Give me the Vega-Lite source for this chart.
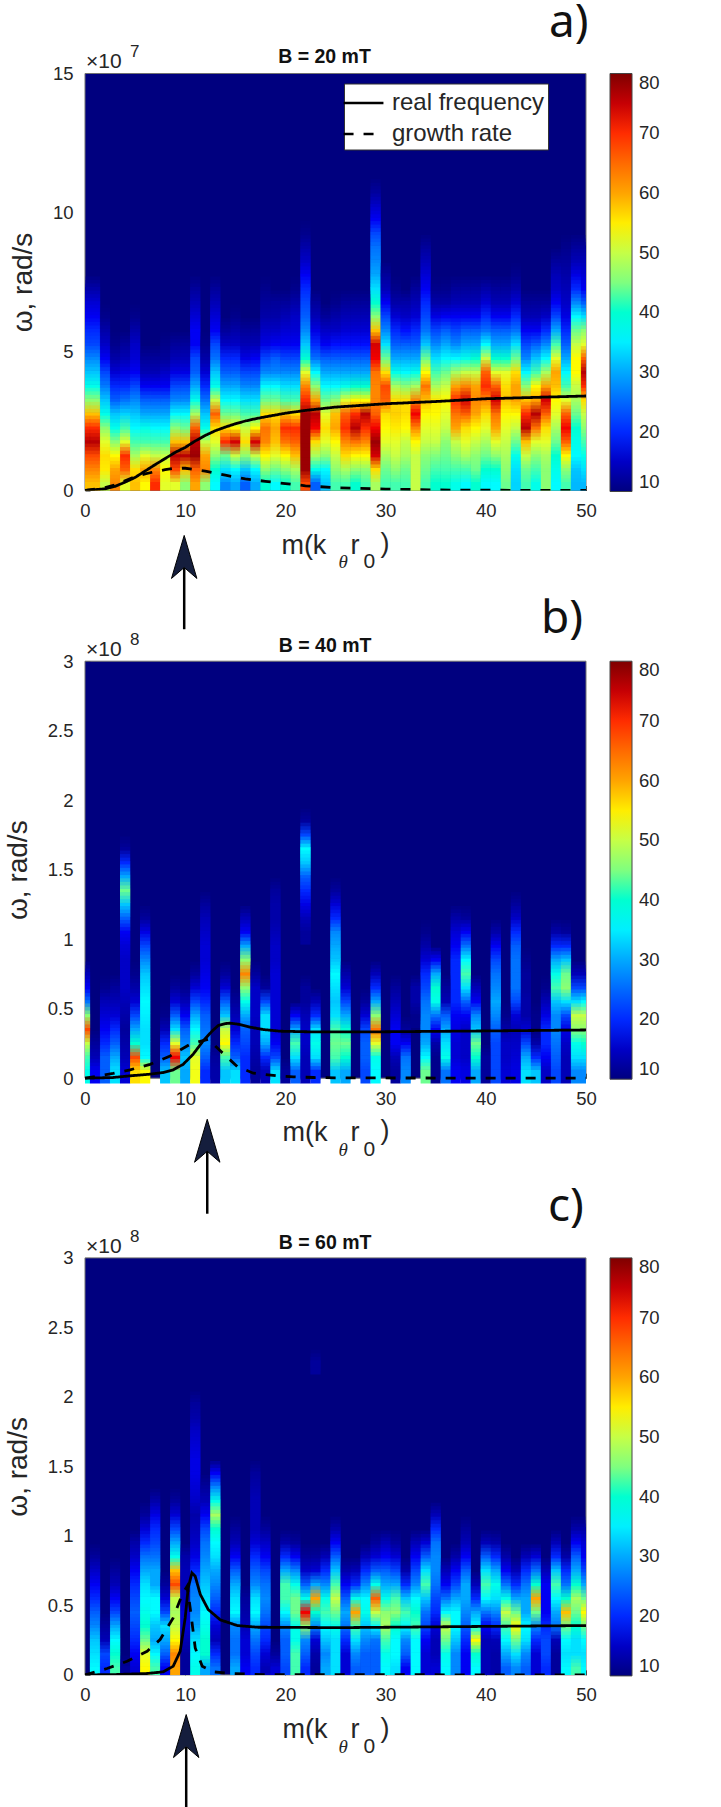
{"$schema":"https://vega.github.io/schema/vega-lite/v6.json","padding":{"left":4,"top":-0.5,"right":0,"bottom":0},"background":"white","bounds":"flush","spacing":170.7,
"resolve":{"scale":{"color":"independent"},"legend":{"color":"independent"}},
"config":{"view":{"stroke":null},"axis":{"labelFont":"Liberation Sans","labelFontSize":18.5,"labelColor":"#262626","labelFlush":false,"domain":false,"grid":false,"tickColor":"#262626","tickSize":-5,"zindex":1,"titleFont":"Liberation Sans","titleFontWeight":"normal","titleColor":"#262626"}},
"datasets":{
"heatA":[
{"m":0,"y":0.25,"v":58},{"m":0,"y":0.75,"v":62},{"m":0,"y":1.25,"v":68},{"m":0,"y":1.75,"v":76},{"m":0,"y":2.25,"v":70},{"m":0,"y":2.75,"v":58},{"m":0,"y":3.25,"v":46},{"m":0,"y":3.75,"v":38},{"m":0,"y":4.25,"v":32},{"m":0,"y":4.75,"v":28},{"m":0,"y":5.25,"v":22},{"m":0,"y":5.75,"v":20},{"m":0,"y":6.25,"v":18},{"m":0,"y":6.75,"v":16},{"m":0,"y":7.25,"v":13},
{"m":1,"y":0.25,"v":58},{"m":1,"y":0.75,"v":62},{"m":1,"y":1.25,"v":68},{"m":1,"y":1.75,"v":76},{"m":1,"y":2.25,"v":70},{"m":1,"y":2.75,"v":58},{"m":1,"y":3.25,"v":46},{"m":1,"y":3.75,"v":38},{"m":1,"y":4.25,"v":32},{"m":1,"y":4.75,"v":28},{"m":1,"y":5.25,"v":22},{"m":1,"y":5.75,"v":20},{"m":1,"y":6.25,"v":18},{"m":1,"y":6.75,"v":16},{"m":1,"y":7.25,"v":13},
{"m":2,"y":0.25,"v":50},{"m":2,"y":0.75,"v":55},{"m":2,"y":1.25,"v":56},{"m":2,"y":1.75,"v":52},{"m":2,"y":2.25,"v":46},{"m":2,"y":2.75,"v":38},{"m":2,"y":3.25,"v":32},{"m":2,"y":3.75,"v":27},{"m":2,"y":4.25,"v":22},{"m":2,"y":4.75,"v":18},{"m":2,"y":5.25,"v":15},{"m":2,"y":5.75,"v":13},{"m":2,"y":6.25,"v":11},
{"m":3,"y":0.25,"v":62},{"m":3,"y":0.75,"v":60},{"m":3,"y":1.25,"v":54},{"m":3,"y":1.75,"v":46},{"m":3,"y":2.25,"v":38},{"m":3,"y":2.75,"v":32},{"m":3,"y":3.25,"v":24},{"m":3,"y":3.75,"v":20},{"m":3,"y":4.25,"v":16},{"m":3,"y":4.75,"v":13},{"m":3,"y":5.25,"v":11},
{"m":4,"y":0.25,"v":52},{"m":4,"y":0.75,"v":66},{"m":4,"y":1.25,"v":70},{"m":4,"y":1.75,"v":52},{"m":4,"y":2.25,"v":42},{"m":4,"y":2.75,"v":33},{"m":4,"y":3.25,"v":26},{"m":4,"y":3.75,"v":20},{"m":4,"y":4.25,"v":17},{"m":4,"y":4.75,"v":14},{"m":4,"y":5.25,"v":12},
{"m":5,"y":0.25,"v":58},{"m":5,"y":0.75,"v":56},{"m":5,"y":1.25,"v":48},{"m":5,"y":1.75,"v":42},{"m":5,"y":2.25,"v":36},{"m":5,"y":2.75,"v":32},{"m":5,"y":3.25,"v":28},{"m":5,"y":3.75,"v":22},{"m":5,"y":4.25,"v":18},{"m":5,"y":4.75,"v":16},{"m":5,"y":5.25,"v":15},{"m":5,"y":5.75,"v":13},{"m":5,"y":6.25,"v":11},
{"m":6,"y":0.25,"v":54},{"m":6,"y":0.75,"v":60},{"m":6,"y":1.25,"v":52},{"m":6,"y":1.75,"v":42},{"m":6,"y":2.25,"v":38},{"m":6,"y":2.75,"v":30},{"m":6,"y":3.25,"v":24},{"m":6,"y":3.75,"v":18},{"m":6,"y":4.25,"v":14},{"m":6,"y":4.75,"v":12},
{"m":7,"y":0.25,"v":70},{"m":7,"y":0.75,"v":62},{"m":7,"y":1.25,"v":50},{"m":7,"y":1.75,"v":42},{"m":7,"y":2.25,"v":36},{"m":7,"y":2.75,"v":30},{"m":7,"y":3.25,"v":24},{"m":7,"y":3.75,"v":18},{"m":7,"y":4.25,"v":14},{"m":7,"y":4.75,"v":12},
{"m":8,"y":0.25,"v":52},{"m":8,"y":0.75,"v":54},{"m":8,"y":1.25,"v":50},{"m":8,"y":1.75,"v":42},{"m":8,"y":2.25,"v":36},{"m":8,"y":2.75,"v":30},{"m":8,"y":3.25,"v":24},{"m":8,"y":3.75,"v":18},{"m":8,"y":4.25,"v":15},{"m":8,"y":4.75,"v":12},{"m":8,"y":5.25,"v":11},
{"m":9,"y":0.25,"v":52},{"m":9,"y":0.75,"v":68},{"m":9,"y":1.25,"v":76},{"m":9,"y":1.75,"v":58},{"m":9,"y":2.25,"v":46},{"m":9,"y":2.75,"v":36},{"m":9,"y":3.25,"v":28},{"m":9,"y":3.75,"v":22},{"m":9,"y":4.25,"v":17},{"m":9,"y":4.75,"v":14},{"m":9,"y":5.25,"v":12},
{"m":10,"y":0.25,"v":46},{"m":10,"y":0.75,"v":58},{"m":10,"y":1.25,"v":76},{"m":10,"y":1.75,"v":58},{"m":10,"y":2.25,"v":44},{"m":10,"y":2.75,"v":36},{"m":10,"y":3.25,"v":28},{"m":10,"y":3.75,"v":22},{"m":10,"y":4.25,"v":17},{"m":10,"y":4.75,"v":14},{"m":10,"y":5.25,"v":12},
{"m":11,"y":0.25,"v":60},{"m":11,"y":0.75,"v":66},{"m":11,"y":1.25,"v":78},{"m":11,"y":1.75,"v":76},{"m":11,"y":2.25,"v":66},{"m":11,"y":2.75,"v":48},{"m":11,"y":3.25,"v":38},{"m":11,"y":3.75,"v":30},{"m":11,"y":4.25,"v":24},{"m":11,"y":4.75,"v":22},{"m":11,"y":5.25,"v":18},{"m":11,"y":5.75,"v":18},{"m":11,"y":6.25,"v":16},{"m":11,"y":6.75,"v":14},{"m":11,"y":7.25,"v":12},
{"m":12,"y":0.25,"v":46},{"m":12,"y":0.75,"v":62},{"m":12,"y":1.25,"v":60},{"m":12,"y":1.75,"v":50},{"m":12,"y":2.25,"v":38},{"m":12,"y":2.75,"v":32},{"m":12,"y":3.25,"v":26},{"m":12,"y":3.75,"v":20},{"m":12,"y":4.25,"v":16},{"m":12,"y":4.75,"v":13},{"m":12,"y":5.25,"v":11},
{"m":13,"y":0.25,"v":36},{"m":13,"y":0.75,"v":40},{"m":13,"y":1.25,"v":46},{"m":13,"y":1.75,"v":52},{"m":13,"y":2.25,"v":56},{"m":13,"y":2.75,"v":66},{"m":13,"y":3.25,"v":50},{"m":13,"y":3.75,"v":38},{"m":13,"y":4.25,"v":32},{"m":13,"y":4.75,"v":26},{"m":13,"y":5.25,"v":22},{"m":13,"y":5.75,"v":18},{"m":13,"y":6.25,"v":16},{"m":13,"y":6.75,"v":14},{"m":13,"y":7.25,"v":12},
{"m":14,"y":0.25,"v":28},{"m":14,"y":0.75,"v":34},{"m":14,"y":1.25,"v":44},{"m":14,"y":1.75,"v":70},{"m":14,"y":2.25,"v":56},{"m":14,"y":2.75,"v":44},{"m":14,"y":3.25,"v":36},{"m":14,"y":3.75,"v":30},{"m":14,"y":4.25,"v":24},{"m":14,"y":4.75,"v":20},{"m":14,"y":5.25,"v":15},{"m":14,"y":5.75,"v":12},
{"m":15,"y":0.25,"v":30},{"m":15,"y":0.75,"v":36},{"m":15,"y":1.25,"v":50},{"m":15,"y":1.75,"v":74},{"m":15,"y":2.25,"v":54},{"m":15,"y":2.75,"v":44},{"m":15,"y":3.25,"v":36},{"m":15,"y":3.75,"v":30},{"m":15,"y":4.25,"v":24},{"m":15,"y":4.75,"v":20},{"m":15,"y":5.25,"v":15},{"m":15,"y":5.75,"v":13},{"m":15,"y":6.25,"v":11},
{"m":16,"y":0.25,"v":24},{"m":16,"y":0.75,"v":32},{"m":16,"y":1.25,"v":46},{"m":16,"y":1.75,"v":56},{"m":16,"y":2.25,"v":50},{"m":16,"y":2.75,"v":42},{"m":16,"y":3.25,"v":34},{"m":16,"y":3.75,"v":28},{"m":16,"y":4.25,"v":22},{"m":16,"y":4.75,"v":17},{"m":16,"y":5.25,"v":14},{"m":16,"y":5.75,"v":12},
{"m":17,"y":0.25,"v":30},{"m":17,"y":0.75,"v":36},{"m":17,"y":1.25,"v":50},{"m":17,"y":1.75,"v":74},{"m":17,"y":2.25,"v":54},{"m":17,"y":2.75,"v":42},{"m":17,"y":3.25,"v":34},{"m":17,"y":3.75,"v":28},{"m":17,"y":4.25,"v":22},{"m":17,"y":4.75,"v":18},{"m":17,"y":5.25,"v":14},{"m":17,"y":5.75,"v":12},
{"m":18,"y":0.25,"v":40},{"m":18,"y":0.75,"v":46},{"m":18,"y":1.25,"v":54},{"m":18,"y":1.75,"v":62},{"m":18,"y":2.25,"v":64},{"m":18,"y":2.75,"v":56},{"m":18,"y":3.25,"v":44},{"m":18,"y":3.75,"v":36},{"m":18,"y":4.25,"v":28},{"m":18,"y":4.75,"v":22},{"m":18,"y":5.25,"v":17},{"m":18,"y":5.75,"v":15},{"m":18,"y":6.25,"v":13},{"m":18,"y":6.75,"v":12},{"m":18,"y":7.25,"v":11},
{"m":19,"y":0.25,"v":36},{"m":19,"y":0.75,"v":44},{"m":19,"y":1.25,"v":52},{"m":19,"y":1.75,"v":58},{"m":19,"y":2.25,"v":60},{"m":19,"y":2.75,"v":56},{"m":19,"y":3.25,"v":44},{"m":19,"y":3.75,"v":36},{"m":19,"y":4.25,"v":28},{"m":19,"y":4.75,"v":24},{"m":19,"y":5.25,"v":18},{"m":19,"y":5.75,"v":15},{"m":19,"y":6.25,"v":13},{"m":19,"y":6.75,"v":12},
{"m":20,"y":0.25,"v":40},{"m":20,"y":0.75,"v":46},{"m":20,"y":1.25,"v":54},{"m":20,"y":1.75,"v":64},{"m":20,"y":2.25,"v":70},{"m":20,"y":2.75,"v":58},{"m":20,"y":3.25,"v":42},{"m":20,"y":3.75,"v":34},{"m":20,"y":4.25,"v":28},{"m":20,"y":4.75,"v":22},{"m":20,"y":5.25,"v":18},{"m":20,"y":5.75,"v":16},{"m":20,"y":6.25,"v":14},{"m":20,"y":6.75,"v":12},
{"m":21,"y":0.25,"v":42},{"m":21,"y":0.75,"v":48},{"m":21,"y":1.25,"v":58},{"m":21,"y":1.75,"v":66},{"m":21,"y":2.25,"v":70},{"m":21,"y":2.75,"v":56},{"m":21,"y":3.25,"v":42},{"m":21,"y":3.75,"v":34},{"m":21,"y":4.25,"v":28},{"m":21,"y":4.75,"v":22},{"m":21,"y":5.25,"v":18},{"m":21,"y":5.75,"v":16},{"m":21,"y":6.25,"v":15},{"m":21,"y":6.75,"v":13},{"m":21,"y":7.25,"v":11},
{"m":22,"y":0.25,"v":68},{"m":22,"y":0.75,"v":78},{"m":22,"y":1.25,"v":78},{"m":22,"y":1.75,"v":78},{"m":22,"y":2.25,"v":78},{"m":22,"y":2.75,"v":78},{"m":22,"y":3.25,"v":70},{"m":22,"y":3.75,"v":62},{"m":22,"y":4.25,"v":52},{"m":22,"y":4.75,"v":40},{"m":22,"y":5.25,"v":32},{"m":22,"y":5.75,"v":28},{"m":22,"y":6.25,"v":24},{"m":22,"y":6.75,"v":22},{"m":22,"y":7.25,"v":20},{"m":22,"y":7.75,"v":18},{"m":22,"y":8.25,"v":15},{"m":22,"y":8.75,"v":13},{"m":22,"y":9.25,"v":11},
{"m":23,"y":0.25,"v":24},{"m":23,"y":0.75,"v":38},{"m":23,"y":1.25,"v":48},{"m":23,"y":1.75,"v":56},{"m":23,"y":2.25,"v":72},{"m":23,"y":2.75,"v":76},{"m":23,"y":3.25,"v":60},{"m":23,"y":3.75,"v":46},{"m":23,"y":4.25,"v":36},{"m":23,"y":4.75,"v":26},{"m":23,"y":5.25,"v":20},{"m":23,"y":5.75,"v":17},{"m":23,"y":6.25,"v":14},{"m":23,"y":6.75,"v":12},
{"m":24,"y":0.25,"v":32},{"m":24,"y":0.75,"v":36},{"m":24,"y":1.25,"v":46},{"m":24,"y":1.75,"v":52},{"m":24,"y":2.25,"v":56},{"m":24,"y":2.75,"v":52},{"m":24,"y":3.25,"v":44},{"m":24,"y":3.75,"v":36},{"m":24,"y":4.25,"v":30},{"m":24,"y":4.75,"v":24},{"m":24,"y":5.25,"v":18},{"m":24,"y":5.75,"v":15},{"m":24,"y":6.25,"v":12},
{"m":25,"y":0.25,"v":42},{"m":25,"y":0.75,"v":46},{"m":25,"y":1.25,"v":50},{"m":25,"y":1.75,"v":54},{"m":25,"y":2.25,"v":60},{"m":25,"y":2.75,"v":58},{"m":25,"y":3.25,"v":46},{"m":25,"y":3.75,"v":36},{"m":25,"y":4.25,"v":30},{"m":25,"y":4.75,"v":24},{"m":25,"y":5.25,"v":19},{"m":25,"y":5.75,"v":15},{"m":25,"y":6.25,"v":13},{"m":25,"y":6.75,"v":11},
{"m":26,"y":0.25,"v":42},{"m":26,"y":0.75,"v":48},{"m":26,"y":1.25,"v":56},{"m":26,"y":1.75,"v":62},{"m":26,"y":2.25,"v":70},{"m":26,"y":2.75,"v":66},{"m":26,"y":3.25,"v":52},{"m":26,"y":3.75,"v":38},{"m":26,"y":4.25,"v":30},{"m":26,"y":4.75,"v":24},{"m":26,"y":5.25,"v":19},{"m":26,"y":5.75,"v":16},{"m":26,"y":6.25,"v":14},{"m":26,"y":6.75,"v":12},
{"m":27,"y":0.25,"v":40},{"m":27,"y":0.75,"v":46},{"m":27,"y":1.25,"v":54},{"m":27,"y":1.75,"v":64},{"m":27,"y":2.25,"v":76},{"m":27,"y":2.75,"v":70},{"m":27,"y":3.25,"v":54},{"m":27,"y":3.75,"v":40},{"m":27,"y":4.25,"v":30},{"m":27,"y":4.75,"v":24},{"m":27,"y":5.25,"v":19},{"m":27,"y":5.75,"v":16},{"m":27,"y":6.25,"v":14},{"m":27,"y":6.75,"v":12},
{"m":28,"y":0.25,"v":42},{"m":28,"y":0.75,"v":46},{"m":28,"y":1.25,"v":54},{"m":28,"y":1.75,"v":62},{"m":28,"y":2.25,"v":70},{"m":28,"y":2.75,"v":76},{"m":28,"y":3.25,"v":54},{"m":28,"y":3.75,"v":40},{"m":28,"y":4.25,"v":30},{"m":28,"y":4.75,"v":24},{"m":28,"y":5.25,"v":19},{"m":28,"y":5.75,"v":16},{"m":28,"y":6.25,"v":14},{"m":28,"y":6.75,"v":12},
{"m":29,"y":0.25,"v":48},{"m":29,"y":0.75,"v":56},{"m":29,"y":1.25,"v":74},{"m":29,"y":1.75,"v":78},{"m":29,"y":2.25,"v":72},{"m":29,"y":2.75,"v":66},{"m":29,"y":3.25,"v":62},{"m":29,"y":3.75,"v":62},{"m":29,"y":4.25,"v":64},{"m":29,"y":4.75,"v":72},{"m":29,"y":5.25,"v":74},{"m":29,"y":5.75,"v":58},{"m":29,"y":6.25,"v":46},{"m":29,"y":6.75,"v":40},{"m":29,"y":7.25,"v":34},{"m":29,"y":7.75,"v":30},{"m":29,"y":8.25,"v":28},{"m":29,"y":8.75,"v":26},{"m":29,"y":9.25,"v":22},{"m":29,"y":9.75,"v":18},{"m":29,"y":10.25,"v":15},{"m":29,"y":10.75,"v":12},
{"m":30,"y":0.25,"v":42},{"m":30,"y":0.75,"v":44},{"m":30,"y":1.25,"v":48},{"m":30,"y":1.75,"v":52},{"m":30,"y":2.25,"v":54},{"m":30,"y":2.75,"v":56},{"m":30,"y":3.25,"v":66},{"m":30,"y":3.75,"v":68},{"m":30,"y":4.25,"v":56},{"m":30,"y":4.75,"v":44},{"m":30,"y":5.25,"v":34},{"m":30,"y":5.75,"v":28},{"m":30,"y":6.25,"v":22},{"m":30,"y":6.75,"v":18},{"m":30,"y":7.25,"v":14},{"m":30,"y":7.75,"v":12},
{"m":31,"y":0.25,"v":42},{"m":31,"y":0.75,"v":46},{"m":31,"y":1.25,"v":50},{"m":31,"y":1.75,"v":52},{"m":31,"y":2.25,"v":55},{"m":31,"y":2.75,"v":57},{"m":31,"y":3.25,"v":56},{"m":31,"y":3.75,"v":48},{"m":31,"y":4.25,"v":38},{"m":31,"y":4.75,"v":30},{"m":31,"y":5.25,"v":24},{"m":31,"y":5.75,"v":20},{"m":31,"y":6.25,"v":16},{"m":31,"y":6.75,"v":13},{"m":31,"y":7.25,"v":11},
{"m":32,"y":0.25,"v":42},{"m":32,"y":0.75,"v":44},{"m":32,"y":1.25,"v":48},{"m":32,"y":1.75,"v":50},{"m":32,"y":2.25,"v":54},{"m":32,"y":2.75,"v":56},{"m":32,"y":3.25,"v":56},{"m":32,"y":3.75,"v":46},{"m":32,"y":4.25,"v":36},{"m":32,"y":4.75,"v":30},{"m":32,"y":5.25,"v":24},{"m":32,"y":5.75,"v":19},{"m":32,"y":6.25,"v":15},{"m":32,"y":6.75,"v":13},
{"m":33,"y":0.25,"v":50},{"m":33,"y":0.75,"v":50},{"m":33,"y":1.25,"v":50},{"m":33,"y":1.75,"v":54},{"m":33,"y":2.25,"v":62},{"m":33,"y":2.75,"v":72},{"m":33,"y":3.25,"v":62},{"m":33,"y":3.75,"v":48},{"m":33,"y":4.25,"v":38},{"m":33,"y":4.75,"v":30},{"m":33,"y":5.25,"v":24},{"m":33,"y":5.75,"v":20},{"m":33,"y":6.25,"v":16},{"m":33,"y":6.75,"v":14},{"m":33,"y":7.25,"v":12},
{"m":34,"y":0.25,"v":42},{"m":34,"y":0.75,"v":44},{"m":34,"y":1.25,"v":46},{"m":34,"y":1.75,"v":50},{"m":34,"y":2.25,"v":52},{"m":34,"y":2.75,"v":54},{"m":34,"y":3.25,"v":58},{"m":34,"y":3.75,"v":64},{"m":34,"y":4.25,"v":54},{"m":34,"y":4.75,"v":44},{"m":34,"y":5.25,"v":32},{"m":34,"y":5.75,"v":26},{"m":34,"y":6.25,"v":22},{"m":34,"y":6.75,"v":20},{"m":34,"y":7.25,"v":18},{"m":34,"y":7.75,"v":16},{"m":34,"y":8.25,"v":14},{"m":34,"y":8.75,"v":12},
{"m":35,"y":0.25,"v":40},{"m":35,"y":0.75,"v":42},{"m":35,"y":1.25,"v":45},{"m":35,"y":1.75,"v":50},{"m":35,"y":2.25,"v":52},{"m":35,"y":2.75,"v":54},{"m":35,"y":3.25,"v":55},{"m":35,"y":3.75,"v":48},{"m":35,"y":4.25,"v":42},{"m":35,"y":4.75,"v":34},{"m":35,"y":5.25,"v":28},{"m":35,"y":5.75,"v":22},{"m":35,"y":6.25,"v":17},{"m":35,"y":6.75,"v":13},{"m":35,"y":7.25,"v":11},
{"m":36,"y":0.25,"v":40},{"m":36,"y":0.75,"v":42},{"m":36,"y":1.25,"v":44},{"m":36,"y":1.75,"v":46},{"m":36,"y":2.25,"v":50},{"m":36,"y":2.75,"v":52},{"m":36,"y":3.25,"v":54},{"m":36,"y":3.75,"v":50},{"m":36,"y":4.25,"v":44},{"m":36,"y":4.75,"v":36},{"m":36,"y":5.25,"v":30},{"m":36,"y":5.75,"v":24},{"m":36,"y":6.25,"v":18},{"m":36,"y":6.75,"v":13},{"m":36,"y":7.25,"v":11},
{"m":37,"y":0.25,"v":38},{"m":37,"y":0.75,"v":42},{"m":37,"y":1.25,"v":46},{"m":37,"y":1.75,"v":50},{"m":37,"y":2.25,"v":60},{"m":37,"y":2.75,"v":64},{"m":37,"y":3.25,"v":70},{"m":37,"y":3.75,"v":60},{"m":37,"y":4.25,"v":48},{"m":37,"y":4.75,"v":36},{"m":37,"y":5.25,"v":28},{"m":37,"y":5.75,"v":22},{"m":37,"y":6.25,"v":18},{"m":37,"y":6.75,"v":14},{"m":37,"y":7.25,"v":12},
{"m":38,"y":0.25,"v":36},{"m":38,"y":0.75,"v":42},{"m":38,"y":1.25,"v":48},{"m":38,"y":1.75,"v":52},{"m":38,"y":2.25,"v":56},{"m":38,"y":2.75,"v":66},{"m":38,"y":3.25,"v":74},{"m":38,"y":3.75,"v":62},{"m":38,"y":4.25,"v":50},{"m":38,"y":4.75,"v":38},{"m":38,"y":5.25,"v":30},{"m":38,"y":5.75,"v":24},{"m":38,"y":6.25,"v":18},{"m":38,"y":6.75,"v":14},{"m":38,"y":7.25,"v":12},
{"m":39,"y":0.25,"v":40},{"m":39,"y":0.75,"v":44},{"m":39,"y":1.25,"v":46},{"m":39,"y":1.75,"v":50},{"m":39,"y":2.25,"v":54},{"m":39,"y":2.75,"v":60},{"m":39,"y":3.25,"v":62},{"m":39,"y":3.75,"v":60},{"m":39,"y":4.25,"v":50},{"m":39,"y":4.75,"v":40},{"m":39,"y":5.25,"v":30},{"m":39,"y":5.75,"v":24},{"m":39,"y":6.25,"v":18},{"m":39,"y":6.75,"v":14},{"m":39,"y":7.25,"v":12},
{"m":40,"y":0.25,"v":36},{"m":40,"y":0.75,"v":40},{"m":40,"y":1.25,"v":44},{"m":40,"y":1.75,"v":48},{"m":40,"y":2.25,"v":52},{"m":40,"y":2.75,"v":56},{"m":40,"y":3.25,"v":62},{"m":40,"y":3.75,"v":70},{"m":40,"y":4.25,"v":66},{"m":40,"y":4.75,"v":50},{"m":40,"y":5.25,"v":36},{"m":40,"y":5.75,"v":26},{"m":40,"y":6.25,"v":20},{"m":40,"y":6.75,"v":16},{"m":40,"y":7.25,"v":13},
{"m":41,"y":0.25,"v":36},{"m":41,"y":0.75,"v":40},{"m":41,"y":1.25,"v":46},{"m":41,"y":1.75,"v":52},{"m":41,"y":2.25,"v":60},{"m":41,"y":2.75,"v":64},{"m":41,"y":3.25,"v":74},{"m":41,"y":3.75,"v":66},{"m":41,"y":4.25,"v":52},{"m":41,"y":4.75,"v":40},{"m":41,"y":5.25,"v":30},{"m":41,"y":5.75,"v":24},{"m":41,"y":6.25,"v":18},{"m":41,"y":6.75,"v":14},{"m":41,"y":7.25,"v":12},
{"m":42,"y":0.25,"v":44},{"m":42,"y":0.75,"v":46},{"m":42,"y":1.25,"v":48},{"m":42,"y":1.75,"v":50},{"m":42,"y":2.25,"v":52},{"m":42,"y":2.75,"v":54},{"m":42,"y":3.25,"v":58},{"m":42,"y":3.75,"v":56},{"m":42,"y":4.25,"v":52},{"m":42,"y":4.75,"v":40},{"m":42,"y":5.25,"v":30},{"m":42,"y":5.75,"v":24},{"m":42,"y":6.25,"v":18},{"m":42,"y":6.75,"v":14},{"m":42,"y":7.25,"v":12},
{"m":43,"y":0.25,"v":33},{"m":43,"y":0.75,"v":34},{"m":43,"y":1.25,"v":38},{"m":43,"y":1.75,"v":44},{"m":43,"y":2.25,"v":50},{"m":43,"y":2.75,"v":54},{"m":43,"y":3.25,"v":60},{"m":43,"y":3.75,"v":60},{"m":43,"y":4.25,"v":56},{"m":43,"y":4.75,"v":44},{"m":43,"y":5.25,"v":34},{"m":43,"y":5.75,"v":26},{"m":43,"y":6.25,"v":20},{"m":43,"y":6.75,"v":16},{"m":43,"y":7.25,"v":13},{"m":43,"y":7.75,"v":11},
{"m":44,"y":0.25,"v":42},{"m":44,"y":0.75,"v":44},{"m":44,"y":1.25,"v":50},{"m":44,"y":1.75,"v":58},{"m":44,"y":2.25,"v":76},{"m":44,"y":2.75,"v":70},{"m":44,"y":3.25,"v":58},{"m":44,"y":3.75,"v":46},{"m":44,"y":4.25,"v":36},{"m":44,"y":4.75,"v":28},{"m":44,"y":5.25,"v":22},{"m":44,"y":5.75,"v":18},{"m":44,"y":6.25,"v":14},{"m":44,"y":6.75,"v":12},
{"m":45,"y":0.25,"v":38},{"m":45,"y":0.75,"v":42},{"m":45,"y":1.25,"v":46},{"m":45,"y":1.75,"v":52},{"m":45,"y":2.25,"v":64},{"m":45,"y":2.75,"v":76},{"m":45,"y":3.25,"v":60},{"m":45,"y":3.75,"v":54},{"m":45,"y":4.25,"v":42},{"m":45,"y":4.75,"v":32},{"m":45,"y":5.25,"v":24},{"m":45,"y":5.75,"v":18},{"m":45,"y":6.25,"v":14},{"m":45,"y":6.75,"v":12},
{"m":46,"y":0.25,"v":46},{"m":46,"y":0.75,"v":46},{"m":46,"y":1.25,"v":48},{"m":46,"y":1.75,"v":52},{"m":46,"y":2.25,"v":56},{"m":46,"y":2.75,"v":66},{"m":46,"y":3.25,"v":74},{"m":46,"y":3.75,"v":60},{"m":46,"y":4.25,"v":48},{"m":46,"y":4.75,"v":36},{"m":46,"y":5.25,"v":28},{"m":46,"y":5.75,"v":20},{"m":46,"y":6.25,"v":15},{"m":46,"y":6.75,"v":12},
{"m":47,"y":0.25,"v":36},{"m":47,"y":0.75,"v":38},{"m":47,"y":1.25,"v":40},{"m":47,"y":1.75,"v":44},{"m":47,"y":2.25,"v":48},{"m":47,"y":2.75,"v":52},{"m":47,"y":3.25,"v":54},{"m":47,"y":3.75,"v":58},{"m":47,"y":4.25,"v":60},{"m":47,"y":4.75,"v":52},{"m":47,"y":5.25,"v":42},{"m":47,"y":5.75,"v":30},{"m":47,"y":6.25,"v":22},{"m":47,"y":6.75,"v":18},{"m":47,"y":7.25,"v":15},{"m":47,"y":7.75,"v":14},{"m":47,"y":8.25,"v":12},
{"m":48,"y":0.25,"v":42},{"m":48,"y":0.75,"v":46},{"m":48,"y":1.25,"v":54},{"m":48,"y":1.75,"v":66},{"m":48,"y":2.25,"v":72},{"m":48,"y":2.75,"v":66},{"m":48,"y":3.25,"v":52},{"m":48,"y":3.75,"v":42},{"m":48,"y":4.25,"v":36},{"m":48,"y":4.75,"v":30},{"m":48,"y":5.25,"v":24},{"m":48,"y":5.75,"v":20},{"m":48,"y":6.25,"v":17},{"m":48,"y":6.75,"v":15},{"m":48,"y":7.25,"v":14},{"m":48,"y":7.75,"v":13},{"m":48,"y":8.25,"v":12},{"m":48,"y":8.75,"v":11},
{"m":49,"y":0.25,"v":31},{"m":49,"y":0.75,"v":32},{"m":49,"y":1.25,"v":36},{"m":49,"y":1.75,"v":38},{"m":49,"y":2.25,"v":40},{"m":49,"y":2.75,"v":44},{"m":49,"y":3.25,"v":48},{"m":49,"y":3.75,"v":50},{"m":49,"y":4.25,"v":54},{"m":49,"y":4.75,"v":54},{"m":49,"y":5.25,"v":50},{"m":49,"y":5.75,"v":44},{"m":49,"y":6.25,"v":36},{"m":49,"y":6.75,"v":28},{"m":49,"y":7.25,"v":20},{"m":49,"y":7.75,"v":17},{"m":49,"y":8.25,"v":14},{"m":49,"y":8.75,"v":12},
{"m":50,"y":0.25,"v":31},{"m":50,"y":0.75,"v":34},{"m":50,"y":1.25,"v":38},{"m":50,"y":1.75,"v":42},{"m":50,"y":2.25,"v":46},{"m":50,"y":2.75,"v":50},{"m":50,"y":3.25,"v":56},{"m":50,"y":3.75,"v":70},{"m":50,"y":4.25,"v":76},{"m":50,"y":4.75,"v":66},{"m":50,"y":5.25,"v":52},{"m":50,"y":5.75,"v":46},{"m":50,"y":6.25,"v":34},{"m":50,"y":6.75,"v":24},{"m":50,"y":7.25,"v":18},{"m":50,"y":7.75,"v":16},{"m":50,"y":8.25,"v":14},{"m":50,"y":8.75,"v":12}
],
"heatB":[
{"m":0,"y":0.05,"v":38},{"m":0,"y":0.15,"v":42},{"m":0,"y":0.25,"v":50},{"m":0,"y":0.35,"v":68},{"m":0,"y":0.45,"v":46},{"m":0,"y":0.55,"v":26},{"m":0,"y":0.65,"v":18},{"m":0,"y":0.75,"v":14},
{"m":1,"y":0.05,"v":18},{"m":1,"y":0.15,"v":14},{"m":1,"y":0.25,"v":12},
{"m":2,"y":0.05,"v":24},{"m":2,"y":0.15,"v":24},{"m":2,"y":0.25,"v":20},{"m":2,"y":0.35,"v":18},{"m":2,"y":0.45,"v":16},{"m":2,"y":0.55,"v":14},{"m":2,"y":0.65,"v":11},
{"m":3,"y":0.05,"v":34},{"m":3,"y":0.15,"v":30},{"m":3,"y":0.25,"v":24},{"m":3,"y":0.35,"v":20},{"m":3,"y":0.45,"v":16},{"m":3,"y":0.55,"v":14},{"m":3,"y":0.65,"v":12},
{"m":4,"y":0.05,"v":16},{"m":4,"y":0.15,"v":14},{"m":4,"y":0.25,"v":13},{"m":4,"y":0.35,"v":12},{"m":4,"y":0.45,"v":13},{"m":4,"y":0.55,"v":14},{"m":4,"y":0.65,"v":15},{"m":4,"y":0.75,"v":15},{"m":4,"y":0.85,"v":15},{"m":4,"y":0.95,"v":16},{"m":4,"y":1.05,"v":18},{"m":4,"y":1.15,"v":24},{"m":4,"y":1.25,"v":32},{"m":4,"y":1.35,"v":44},{"m":4,"y":1.45,"v":30},{"m":4,"y":1.55,"v":20},{"m":4,"y":1.65,"v":12},
{"m":5,"y":0.05,"v":56},{"m":5,"y":0.15,"v":68},{"m":5,"y":0.25,"v":40},{"m":5,"y":0.35,"v":30},{"m":5,"y":0.45,"v":22},{"m":5,"y":0.55,"v":16},{"m":5,"y":0.65,"v":13},{"m":5,"y":0.75,"v":11},
{"m":6,"y":0.05,"v":54},{"m":6,"y":0.15,"v":36},{"m":6,"y":0.25,"v":34},{"m":6,"y":0.35,"v":34},{"m":6,"y":0.45,"v":35},{"m":6,"y":0.55,"v":36},{"m":6,"y":0.65,"v":34},{"m":6,"y":0.75,"v":32},{"m":6,"y":0.85,"v":28},{"m":6,"y":0.95,"v":22},{"m":6,"y":1.05,"v":17},{"m":6,"y":1.15,"v":12},
{"m":8,"y":0.05,"v":32},{"m":8,"y":0.15,"v":24},{"m":8,"y":0.25,"v":20},{"m":8,"y":0.35,"v":14},{"m":8,"y":0.45,"v":11},
{"m":9,"y":0.05,"v":44},{"m":9,"y":0.15,"v":72},{"m":9,"y":0.25,"v":52},{"m":9,"y":0.35,"v":34},{"m":9,"y":0.45,"v":24},{"m":9,"y":0.55,"v":16},{"m":9,"y":0.65,"v":12},
{"m":10,"y":0.05,"v":30},{"m":10,"y":0.15,"v":32},{"m":10,"y":0.25,"v":28},{"m":10,"y":0.35,"v":24},{"m":10,"y":0.45,"v":18},{"m":10,"y":0.55,"v":14},{"m":10,"y":0.65,"v":11},
{"m":11,"y":0.05,"v":53},{"m":11,"y":0.15,"v":52},{"m":11,"y":0.25,"v":42},{"m":11,"y":0.35,"v":36},{"m":11,"y":0.45,"v":30},{"m":11,"y":0.55,"v":22},{"m":11,"y":0.65,"v":16},{"m":11,"y":0.75,"v":12},
{"m":12,"y":0.05,"v":20},{"m":12,"y":0.15,"v":24},{"m":12,"y":0.25,"v":28},{"m":12,"y":0.35,"v":26},{"m":12,"y":0.45,"v":24},{"m":12,"y":0.55,"v":20},{"m":12,"y":0.65,"v":18},{"m":12,"y":0.75,"v":17},{"m":12,"y":0.85,"v":16},{"m":12,"y":0.95,"v":16},{"m":12,"y":1.05,"v":15},{"m":12,"y":1.15,"v":14},{"m":12,"y":1.25,"v":12},
{"m":13,"y":0.05,"v":13},{"m":13,"y":0.15,"v":12},
{"m":14,"y":0.05,"v":32},{"m":14,"y":0.15,"v":42},{"m":14,"y":0.25,"v":54},{"m":14,"y":0.35,"v":50},{"m":14,"y":0.45,"v":32},{"m":14,"y":0.55,"v":24},{"m":14,"y":0.65,"v":16},{"m":14,"y":0.75,"v":12},
{"m":15,"y":0.05,"v":34},{"m":15,"y":0.15,"v":24},{"m":15,"y":0.25,"v":20},{"m":15,"y":0.35,"v":16},{"m":15,"y":0.45,"v":14},{"m":15,"y":0.55,"v":12},
{"m":16,"y":0.05,"v":20},{"m":16,"y":0.15,"v":20},{"m":16,"y":0.25,"v":22},{"m":16,"y":0.35,"v":24},{"m":16,"y":0.45,"v":30},{"m":16,"y":0.55,"v":38},{"m":16,"y":0.65,"v":46},{"m":16,"y":0.75,"v":62},{"m":16,"y":0.85,"v":46},{"m":16,"y":0.95,"v":30},{"m":16,"y":1.05,"v":18},{"m":16,"y":1.15,"v":14},
{"m":17,"y":0.05,"v":12},{"m":17,"y":0.15,"v":13},{"m":17,"y":0.25,"v":14},{"m":17,"y":0.35,"v":14},{"m":17,"y":0.45,"v":15},{"m":17,"y":0.55,"v":15},{"m":17,"y":0.65,"v":15},{"m":17,"y":0.75,"v":12},
{"m":18,"y":0.05,"v":14},{"m":18,"y":0.15,"v":20},{"m":18,"y":0.25,"v":30},{"m":18,"y":0.35,"v":34},{"m":18,"y":0.45,"v":34},{"m":18,"y":0.55,"v":22},{"m":18,"y":0.65,"v":12},
{"m":19,"y":0.05,"v":34},{"m":19,"y":0.15,"v":22},{"m":19,"y":0.25,"v":18},{"m":19,"y":0.35,"v":16},{"m":19,"y":0.45,"v":16},{"m":19,"y":0.55,"v":16},{"m":19,"y":0.65,"v":16},{"m":19,"y":0.75,"v":16},{"m":19,"y":0.85,"v":15},{"m":19,"y":0.95,"v":15},{"m":19,"y":1.05,"v":14},{"m":19,"y":1.15,"v":13},{"m":19,"y":1.25,"v":13},{"m":19,"y":1.35,"v":12},
{"m":20,"y":0.05,"v":12},
{"m":21,"y":0.05,"v":24},{"m":21,"y":0.15,"v":34},{"m":21,"y":0.25,"v":42},{"m":21,"y":0.35,"v":30},{"m":21,"y":0.45,"v":18},
{"m":22,"y":0.05,"v":14},{"m":22,"y":0.15,"v":14},{"m":22,"y":0.25,"v":15},{"m":22,"y":0.35,"v":15},{"m":22,"y":0.45,"v":14},{"m":22,"y":0.55,"v":12},{"m":22,"y":0.65,"v":12},{"m":22,"y":1.05,"v":12},{"m":22,"y":1.15,"v":14},{"m":22,"y":1.25,"v":17},{"m":22,"y":1.35,"v":20},{"m":22,"y":1.45,"v":24},{"m":22,"y":1.55,"v":32},{"m":22,"y":1.65,"v":36},{"m":22,"y":1.75,"v":22},{"m":22,"y":1.85,"v":12},
{"m":23,"y":0.05,"v":20},{"m":23,"y":0.15,"v":34},{"m":23,"y":0.25,"v":38},{"m":23,"y":0.35,"v":34},{"m":23,"y":0.45,"v":20},{"m":23,"y":0.55,"v":14},
{"m":25,"y":0.05,"v":32},{"m":25,"y":0.15,"v":42},{"m":25,"y":0.25,"v":44},{"m":25,"y":0.35,"v":42},{"m":25,"y":0.45,"v":34},{"m":25,"y":0.55,"v":32},{"m":25,"y":0.65,"v":34},{"m":25,"y":0.75,"v":36},{"m":25,"y":0.85,"v":32},{"m":25,"y":0.95,"v":30},{"m":25,"y":1.05,"v":28},{"m":25,"y":1.15,"v":20},{"m":25,"y":1.25,"v":16},{"m":25,"y":1.35,"v":12},
{"m":26,"y":0.05,"v":30},{"m":26,"y":0.15,"v":40},{"m":26,"y":0.25,"v":44},{"m":26,"y":0.35,"v":40},{"m":26,"y":0.45,"v":30},{"m":26,"y":0.55,"v":22},{"m":26,"y":0.65,"v":16},{"m":26,"y":0.75,"v":13},
{"m":28,"y":0.05,"v":22},{"m":28,"y":0.15,"v":24},{"m":28,"y":0.25,"v":24},{"m":28,"y":0.35,"v":22},{"m":28,"y":0.45,"v":16},{"m":28,"y":0.55,"v":12},
{"m":29,"y":0.05,"v":36},{"m":29,"y":0.15,"v":38},{"m":29,"y":0.25,"v":52},{"m":29,"y":0.35,"v":64},{"m":29,"y":0.45,"v":46},{"m":29,"y":0.55,"v":30},{"m":29,"y":0.65,"v":20},{"m":29,"y":0.75,"v":14},
{"m":31,"y":0.05,"v":12},{"m":31,"y":0.15,"v":14},{"m":31,"y":0.25,"v":18},{"m":31,"y":0.35,"v":18},{"m":31,"y":0.45,"v":16},{"m":31,"y":0.55,"v":14},{"m":31,"y":0.65,"v":12},
{"m":32,"y":0.05,"v":28},{"m":32,"y":0.15,"v":26},{"m":32,"y":0.25,"v":18},{"m":32,"y":0.35,"v":12},
{"m":33,"y":0.45,"v":11},{"m":33,"y":0.55,"v":13},{"m":33,"y":0.65,"v":13},
{"m":34,"y":0.05,"v":44},{"m":34,"y":0.15,"v":36},{"m":34,"y":0.25,"v":30},{"m":34,"y":0.35,"v":28},{"m":34,"y":0.45,"v":28},{"m":34,"y":0.55,"v":26},{"m":34,"y":0.65,"v":22},{"m":34,"y":0.75,"v":20},{"m":34,"y":0.85,"v":16},{"m":34,"y":0.95,"v":13},{"m":34,"y":1.05,"v":11},
{"m":35,"y":0.05,"v":11},{"m":35,"y":0.15,"v":11},{"m":35,"y":0.25,"v":13},{"m":35,"y":0.35,"v":18},{"m":35,"y":0.45,"v":26},{"m":35,"y":0.55,"v":38},{"m":35,"y":0.65,"v":40},{"m":35,"y":0.75,"v":30},{"m":35,"y":0.85,"v":18},
{"m":36,"y":0.05,"v":26},{"m":36,"y":0.15,"v":38},{"m":36,"y":0.25,"v":34},{"m":36,"y":0.35,"v":30},{"m":36,"y":0.45,"v":24},{"m":36,"y":0.55,"v":14},{"m":36,"y":0.65,"v":12},
{"m":37,"y":0.05,"v":18},{"m":37,"y":0.15,"v":16},{"m":37,"y":0.25,"v":16},{"m":37,"y":0.35,"v":17},{"m":37,"y":0.45,"v":18},{"m":37,"y":0.55,"v":20},{"m":37,"y":0.65,"v":20},{"m":37,"y":0.75,"v":20},{"m":37,"y":0.85,"v":20},{"m":37,"y":0.95,"v":18},{"m":37,"y":1.05,"v":16},{"m":37,"y":1.15,"v":13},
{"m":38,"y":0.05,"v":17},{"m":38,"y":0.15,"v":15},{"m":38,"y":0.25,"v":15},{"m":38,"y":0.35,"v":15},{"m":38,"y":0.45,"v":18},{"m":38,"y":0.55,"v":24},{"m":38,"y":0.65,"v":34},{"m":38,"y":0.75,"v":42},{"m":38,"y":0.85,"v":36},{"m":38,"y":0.95,"v":26},{"m":38,"y":1.05,"v":18},{"m":38,"y":1.15,"v":12},
{"m":39,"y":0.05,"v":30},{"m":39,"y":0.15,"v":40},{"m":39,"y":0.25,"v":44},{"m":39,"y":0.35,"v":32},{"m":39,"y":0.45,"v":28},{"m":39,"y":0.55,"v":18},{"m":39,"y":0.65,"v":14},
{"m":40,"y":0.05,"v":12},{"m":40,"y":0.15,"v":12},
{"m":41,"y":0.05,"v":22},{"m":41,"y":0.15,"v":22},{"m":41,"y":0.25,"v":22},{"m":41,"y":0.35,"v":24},{"m":41,"y":0.45,"v":28},{"m":41,"y":0.55,"v":30},{"m":41,"y":0.65,"v":28},{"m":41,"y":0.75,"v":26},{"m":41,"y":0.85,"v":22},{"m":41,"y":0.95,"v":18},{"m":41,"y":1.05,"v":13},
{"m":42,"y":0.05,"v":16},{"m":42,"y":0.15,"v":15},{"m":42,"y":0.25,"v":15},{"m":42,"y":0.35,"v":13},{"m":42,"y":0.45,"v":11},
{"m":43,"y":0.05,"v":17},{"m":43,"y":0.15,"v":16},{"m":43,"y":0.25,"v":15},{"m":43,"y":0.35,"v":14},{"m":43,"y":0.45,"v":16},{"m":43,"y":0.55,"v":22},{"m":43,"y":0.65,"v":26},{"m":43,"y":0.75,"v":26},{"m":43,"y":0.85,"v":26},{"m":43,"y":0.95,"v":24},{"m":43,"y":1.05,"v":20},{"m":43,"y":1.15,"v":15},{"m":43,"y":1.25,"v":12},
{"m":44,"y":0.05,"v":34},{"m":44,"y":0.15,"v":30},{"m":44,"y":0.25,"v":22},{"m":44,"y":0.35,"v":16},{"m":44,"y":0.45,"v":13},{"m":44,"y":0.55,"v":13},{"m":44,"y":0.65,"v":12},{"m":44,"y":0.75,"v":12},{"m":44,"y":0.85,"v":11},
{"m":45,"y":0.05,"v":32},{"m":45,"y":0.15,"v":20},{"m":45,"y":0.25,"v":13},{"m":45,"y":0.45,"v":11},
{"m":46,"y":0.05,"v":15},{"m":46,"y":0.15,"v":18},{"m":46,"y":0.25,"v":20},{"m":46,"y":0.35,"v":20},{"m":46,"y":0.45,"v":17},{"m":46,"y":0.55,"v":14},{"m":46,"y":0.65,"v":11},
{"m":47,"y":0.05,"v":22},{"m":47,"y":0.15,"v":24},{"m":47,"y":0.25,"v":26},{"m":47,"y":0.35,"v":28},{"m":47,"y":0.45,"v":28},{"m":47,"y":0.55,"v":32},{"m":47,"y":0.65,"v":42},{"m":47,"y":0.75,"v":38},{"m":47,"y":0.85,"v":30},{"m":47,"y":0.95,"v":20},{"m":47,"y":1.05,"v":13},
{"m":48,"y":0.05,"v":14},{"m":48,"y":0.15,"v":14},{"m":48,"y":0.25,"v":15},{"m":48,"y":0.35,"v":17},{"m":48,"y":0.45,"v":22},{"m":48,"y":0.55,"v":34},{"m":48,"y":0.65,"v":46},{"m":48,"y":0.75,"v":44},{"m":48,"y":0.85,"v":32},{"m":48,"y":0.95,"v":20},{"m":48,"y":1.05,"v":12},
{"m":49,"y":0.05,"v":28},{"m":49,"y":0.15,"v":34},{"m":49,"y":0.25,"v":38},{"m":49,"y":0.35,"v":46},{"m":49,"y":0.45,"v":50},{"m":49,"y":0.55,"v":34},{"m":49,"y":0.65,"v":22},{"m":49,"y":0.75,"v":14},
{"m":50,"y":0.05,"v":28},{"m":50,"y":0.15,"v":34},{"m":50,"y":0.25,"v":40},{"m":50,"y":0.35,"v":46},{"m":50,"y":0.45,"v":50},{"m":50,"y":0.55,"v":36},{"m":50,"y":0.65,"v":22},{"m":50,"y":0.75,"v":14}
],
"heatC":[
{"m":1,"y":0.05,"v":36},{"m":1,"y":0.15,"v":34},{"m":1,"y":0.25,"v":32},{"m":1,"y":0.35,"v":28},{"m":1,"y":0.45,"v":24},{"m":1,"y":0.55,"v":20},{"m":1,"y":0.65,"v":18},{"m":1,"y":0.75,"v":15},{"m":1,"y":0.85,"v":12},
{"m":2,"y":0.05,"v":20},{"m":2,"y":0.15,"v":22},{"m":2,"y":0.25,"v":14},{"m":2,"y":0.35,"v":12},
{"m":3,"y":0.05,"v":42},{"m":3,"y":0.15,"v":40},{"m":3,"y":0.25,"v":36},{"m":3,"y":0.35,"v":30},{"m":3,"y":0.45,"v":22},{"m":3,"y":0.55,"v":18},{"m":3,"y":0.65,"v":14},{"m":3,"y":0.75,"v":12},
{"m":4,"y":0.05,"v":12},
{"m":5,"y":0.05,"v":16},{"m":5,"y":0.15,"v":18},{"m":5,"y":0.25,"v":20},{"m":5,"y":0.35,"v":22},{"m":5,"y":0.45,"v":24},{"m":5,"y":0.55,"v":22},{"m":5,"y":0.65,"v":20},{"m":5,"y":0.75,"v":18},{"m":5,"y":0.85,"v":15},{"m":5,"y":0.95,"v":13},
{"m":6,"y":0.05,"v":54},{"m":6,"y":0.15,"v":52},{"m":6,"y":0.25,"v":44},{"m":6,"y":0.35,"v":40},{"m":6,"y":0.45,"v":38},{"m":6,"y":0.55,"v":36},{"m":6,"y":0.65,"v":34},{"m":6,"y":0.75,"v":30},{"m":6,"y":0.85,"v":26},{"m":6,"y":0.95,"v":20},{"m":6,"y":1.05,"v":16},{"m":6,"y":1.15,"v":12},
{"m":7,"y":0.05,"v":42},{"m":7,"y":0.15,"v":36},{"m":7,"y":0.25,"v":30},{"m":7,"y":0.35,"v":32},{"m":7,"y":0.45,"v":36},{"m":7,"y":0.55,"v":36},{"m":7,"y":0.65,"v":30},{"m":7,"y":0.75,"v":30},{"m":7,"y":0.85,"v":26},{"m":7,"y":0.95,"v":22},{"m":7,"y":1.05,"v":20},{"m":7,"y":1.15,"v":17},{"m":7,"y":1.25,"v":13},
{"m":8,"y":0.05,"v":18},{"m":8,"y":0.15,"v":24},{"m":8,"y":0.25,"v":30},{"m":8,"y":0.35,"v":34},{"m":8,"y":0.45,"v":22},{"m":8,"y":0.55,"v":16},{"m":8,"y":0.65,"v":12},
{"m":9,"y":0.05,"v":60},{"m":9,"y":0.15,"v":62},{"m":9,"y":0.25,"v":54},{"m":9,"y":0.35,"v":50},{"m":9,"y":0.45,"v":48},{"m":9,"y":0.55,"v":50},{"m":9,"y":0.65,"v":68},{"m":9,"y":0.75,"v":58},{"m":9,"y":0.85,"v":38},{"m":9,"y":0.95,"v":30},{"m":9,"y":1.05,"v":22},{"m":9,"y":1.15,"v":16},{"m":9,"y":1.25,"v":12},
{"m":10,"y":0.05,"v":12},{"m":10,"y":0.15,"v":12},{"m":10,"y":0.25,"v":14},{"m":10,"y":0.35,"v":16},{"m":10,"y":0.45,"v":16},{"m":10,"y":0.55,"v":14},{"m":10,"y":0.65,"v":14},{"m":10,"y":0.75,"v":14},{"m":10,"y":0.85,"v":13},
{"m":11,"y":0.05,"v":38},{"m":11,"y":0.15,"v":36},{"m":11,"y":0.25,"v":34},{"m":11,"y":0.35,"v":30},{"m":11,"y":0.45,"v":28},{"m":11,"y":0.55,"v":28},{"m":11,"y":0.65,"v":26},{"m":11,"y":0.75,"v":20},{"m":11,"y":0.85,"v":17},{"m":11,"y":0.95,"v":15},{"m":11,"y":1.05,"v":14},{"m":11,"y":1.15,"v":13},{"m":11,"y":1.25,"v":15},{"m":11,"y":1.35,"v":16},{"m":11,"y":1.45,"v":17},{"m":11,"y":1.55,"v":17},{"m":11,"y":1.65,"v":16},{"m":11,"y":1.75,"v":15},{"m":11,"y":1.85,"v":13},{"m":11,"y":1.95,"v":12},
{"m":12,"y":0.05,"v":30},{"m":12,"y":0.15,"v":40},{"m":12,"y":0.25,"v":40},{"m":12,"y":0.35,"v":38},{"m":12,"y":0.45,"v":36},{"m":12,"y":0.55,"v":34},{"m":12,"y":0.65,"v":32},{"m":12,"y":0.75,"v":30},{"m":12,"y":0.85,"v":28},{"m":12,"y":0.95,"v":26},{"m":12,"y":1.05,"v":22},{"m":12,"y":1.15,"v":18},{"m":12,"y":1.25,"v":14},{"m":12,"y":1.35,"v":12},
{"m":13,"y":0.05,"v":26},{"m":13,"y":0.15,"v":20},{"m":13,"y":0.25,"v":14},{"m":13,"y":0.35,"v":16},{"m":13,"y":0.45,"v":20},{"m":13,"y":0.55,"v":24},{"m":13,"y":0.65,"v":28},{"m":13,"y":0.75,"v":30},{"m":13,"y":0.85,"v":34},{"m":13,"y":0.95,"v":36},{"m":13,"y":1.05,"v":40},{"m":13,"y":1.15,"v":48},{"m":13,"y":1.25,"v":38},{"m":13,"y":1.35,"v":28},{"m":13,"y":1.45,"v":18},
{"m":15,"y":0.05,"v":30},{"m":15,"y":0.15,"v":26},{"m":15,"y":0.25,"v":26},{"m":15,"y":0.35,"v":28},{"m":15,"y":0.45,"v":36},{"m":15,"y":0.55,"v":34},{"m":15,"y":0.65,"v":30},{"m":15,"y":0.75,"v":24},{"m":15,"y":0.85,"v":18},{"m":15,"y":0.95,"v":14},{"m":15,"y":1.05,"v":12},
{"m":16,"y":0.05,"v":18},{"m":16,"y":0.15,"v":16},{"m":16,"y":0.25,"v":16},{"m":16,"y":0.35,"v":14},{"m":16,"y":0.45,"v":13},{"m":16,"y":0.55,"v":12},
{"m":17,"y":0.05,"v":20},{"m":17,"y":0.15,"v":22},{"m":17,"y":0.25,"v":26},{"m":17,"y":0.35,"v":30},{"m":17,"y":0.45,"v":36},{"m":17,"y":0.55,"v":34},{"m":17,"y":0.65,"v":28},{"m":17,"y":0.75,"v":24},{"m":17,"y":0.85,"v":20},{"m":17,"y":0.95,"v":16},{"m":17,"y":1.05,"v":14},{"m":17,"y":1.15,"v":14},{"m":17,"y":1.25,"v":14},{"m":17,"y":1.35,"v":13},{"m":17,"y":1.45,"v":12},
{"m":18,"y":0.05,"v":14},{"m":18,"y":0.15,"v":16},{"m":18,"y":0.25,"v":20},{"m":18,"y":0.35,"v":22},{"m":18,"y":0.45,"v":26},{"m":18,"y":0.55,"v":28},{"m":18,"y":0.65,"v":26},{"m":18,"y":0.75,"v":22},{"m":18,"y":0.85,"v":18},{"m":18,"y":0.95,"v":15},{"m":18,"y":1.05,"v":12},
{"m":19,"y":0.05,"v":16},{"m":19,"y":0.15,"v":12},
{"m":20,"y":0.05,"v":22},{"m":20,"y":0.15,"v":24},{"m":20,"y":0.25,"v":24},{"m":20,"y":0.35,"v":28},{"m":20,"y":0.45,"v":36},{"m":20,"y":0.55,"v":42},{"m":20,"y":0.65,"v":42},{"m":20,"y":0.75,"v":30},{"m":20,"y":0.85,"v":20},{"m":20,"y":0.95,"v":13},
{"m":21,"y":0.05,"v":42},{"m":21,"y":0.15,"v":42},{"m":21,"y":0.25,"v":38},{"m":21,"y":0.35,"v":38},{"m":21,"y":0.45,"v":44},{"m":21,"y":0.55,"v":44},{"m":21,"y":0.65,"v":38},{"m":21,"y":0.75,"v":28},{"m":21,"y":0.85,"v":18},{"m":21,"y":0.95,"v":12},
{"m":22,"y":0.05,"v":20},{"m":22,"y":0.15,"v":24},{"m":22,"y":0.25,"v":28},{"m":22,"y":0.35,"v":46},{"m":22,"y":0.45,"v":72},{"m":22,"y":0.55,"v":38},{"m":22,"y":0.65,"v":24},{"m":22,"y":0.75,"v":15},{"m":22,"y":0.85,"v":12},
{"m":23,"y":0.05,"v":12},{"m":23,"y":0.15,"v":13},{"m":23,"y":0.25,"v":16},{"m":23,"y":0.35,"v":28},{"m":23,"y":0.45,"v":40},{"m":23,"y":0.55,"v":60},{"m":23,"y":0.65,"v":30},{"m":23,"y":0.75,"v":16},{"m":23,"y":0.85,"v":12},{"m":23,"y":2.25,"v":12},
{"m":24,"y":0.05,"v":30},{"m":24,"y":0.15,"v":28},{"m":24,"y":0.25,"v":32},{"m":24,"y":0.35,"v":36},{"m":24,"y":0.45,"v":42},{"m":24,"y":0.55,"v":38},{"m":24,"y":0.65,"v":28},{"m":24,"y":0.75,"v":20},{"m":24,"y":0.85,"v":14},
{"m":25,"y":0.05,"v":34},{"m":25,"y":0.15,"v":34},{"m":25,"y":0.25,"v":34},{"m":25,"y":0.35,"v":38},{"m":25,"y":0.45,"v":44},{"m":25,"y":0.55,"v":50},{"m":25,"y":0.65,"v":42},{"m":25,"y":0.75,"v":32},{"m":25,"y":0.85,"v":24},{"m":25,"y":0.95,"v":18},{"m":25,"y":1.05,"v":13},
{"m":26,"y":0.05,"v":16},{"m":26,"y":0.15,"v":16},{"m":26,"y":0.25,"v":20},{"m":26,"y":0.35,"v":26},{"m":26,"y":0.45,"v":30},{"m":26,"y":0.55,"v":24},{"m":26,"y":0.65,"v":18},{"m":26,"y":0.75,"v":13},
{"m":27,"y":0.05,"v":24},{"m":27,"y":0.15,"v":28},{"m":27,"y":0.25,"v":34},{"m":27,"y":0.35,"v":42},{"m":27,"y":0.45,"v":60},{"m":27,"y":0.55,"v":38},{"m":27,"y":0.65,"v":20},{"m":27,"y":0.75,"v":14},
{"m":28,"y":0.05,"v":24},{"m":28,"y":0.15,"v":24},{"m":28,"y":0.25,"v":28},{"m":28,"y":0.35,"v":32},{"m":28,"y":0.45,"v":38},{"m":28,"y":0.55,"v":36},{"m":28,"y":0.65,"v":28},{"m":28,"y":0.75,"v":20},{"m":28,"y":0.85,"v":14},
{"m":29,"y":0.05,"v":24},{"m":29,"y":0.15,"v":24},{"m":29,"y":0.25,"v":26},{"m":29,"y":0.35,"v":36},{"m":29,"y":0.45,"v":50},{"m":29,"y":0.55,"v":66},{"m":29,"y":0.65,"v":38},{"m":29,"y":0.75,"v":24},{"m":29,"y":0.85,"v":16},{"m":29,"y":0.95,"v":12},
{"m":30,"y":0.05,"v":36},{"m":30,"y":0.15,"v":38},{"m":30,"y":0.25,"v":42},{"m":30,"y":0.35,"v":48},{"m":30,"y":0.45,"v":46},{"m":30,"y":0.55,"v":38},{"m":30,"y":0.65,"v":30},{"m":30,"y":0.75,"v":24},{"m":30,"y":0.85,"v":18},{"m":30,"y":0.95,"v":14},
{"m":31,"y":0.05,"v":34},{"m":31,"y":0.15,"v":36},{"m":31,"y":0.25,"v":36},{"m":31,"y":0.35,"v":40},{"m":31,"y":0.45,"v":46},{"m":31,"y":0.55,"v":42},{"m":31,"y":0.65,"v":30},{"m":31,"y":0.75,"v":22},{"m":31,"y":0.85,"v":16},{"m":31,"y":0.95,"v":12},
{"m":32,"y":0.05,"v":18},{"m":32,"y":0.15,"v":24},{"m":32,"y":0.25,"v":28},{"m":32,"y":0.35,"v":36},{"m":32,"y":0.45,"v":42},{"m":32,"y":0.55,"v":32},{"m":32,"y":0.65,"v":20},{"m":32,"y":0.75,"v":13},
{"m":33,"y":0.05,"v":36},{"m":33,"y":0.15,"v":36},{"m":33,"y":0.25,"v":36},{"m":33,"y":0.35,"v":42},{"m":33,"y":0.45,"v":40},{"m":33,"y":0.55,"v":36},{"m":33,"y":0.65,"v":28},{"m":33,"y":0.75,"v":22},{"m":33,"y":0.85,"v":18},{"m":33,"y":0.95,"v":14},
{"m":34,"y":0.05,"v":16},{"m":34,"y":0.15,"v":16},{"m":34,"y":0.25,"v":18},{"m":34,"y":0.35,"v":22},{"m":34,"y":0.45,"v":26},{"m":34,"y":0.55,"v":32},{"m":34,"y":0.65,"v":42},{"m":34,"y":0.75,"v":34},{"m":34,"y":0.85,"v":24},{"m":34,"y":0.95,"v":16},
{"m":35,"y":0.05,"v":16},{"m":35,"y":0.15,"v":14},{"m":35,"y":0.25,"v":14},{"m":35,"y":0.35,"v":16},{"m":35,"y":0.45,"v":20},{"m":35,"y":0.55,"v":22},{"m":35,"y":0.65,"v":26},{"m":35,"y":0.75,"v":28},{"m":35,"y":0.85,"v":28},{"m":35,"y":0.95,"v":26},{"m":35,"y":1.05,"v":20},{"m":35,"y":1.15,"v":14},
{"m":36,"y":0.05,"v":36},{"m":36,"y":0.15,"v":38},{"m":36,"y":0.25,"v":44},{"m":36,"y":0.35,"v":50},{"m":36,"y":0.45,"v":36},{"m":36,"y":0.55,"v":26},{"m":36,"y":0.65,"v":18},{"m":36,"y":0.75,"v":14},
{"m":37,"y":0.05,"v":28},{"m":37,"y":0.15,"v":28},{"m":37,"y":0.25,"v":32},{"m":37,"y":0.35,"v":36},{"m":37,"y":0.45,"v":36},{"m":37,"y":0.55,"v":30},{"m":37,"y":0.65,"v":22},{"m":37,"y":0.75,"v":18},{"m":37,"y":0.85,"v":13},
{"m":38,"y":0.05,"v":18},{"m":38,"y":0.15,"v":18},{"m":38,"y":0.25,"v":20},{"m":38,"y":0.35,"v":24},{"m":38,"y":0.45,"v":28},{"m":38,"y":0.55,"v":30},{"m":38,"y":0.65,"v":30},{"m":38,"y":0.75,"v":24},{"m":38,"y":0.85,"v":18},{"m":38,"y":0.95,"v":14},{"m":38,"y":1.05,"v":12},
{"m":39,"y":0.05,"v":36},{"m":39,"y":0.15,"v":40},{"m":39,"y":0.25,"v":54},{"m":39,"y":0.35,"v":36},{"m":39,"y":0.45,"v":30},{"m":39,"y":0.55,"v":20},{"m":39,"y":0.65,"v":14},
{"m":40,"y":0.05,"v":14},{"m":40,"y":0.15,"v":14},{"m":40,"y":0.25,"v":14},{"m":40,"y":0.35,"v":18},{"m":40,"y":0.45,"v":26},{"m":40,"y":0.55,"v":36},{"m":40,"y":0.65,"v":42},{"m":40,"y":0.75,"v":34},{"m":40,"y":0.85,"v":24},{"m":40,"y":0.95,"v":14},
{"m":41,"y":0.05,"v":13},{"m":41,"y":0.15,"v":13},{"m":41,"y":0.25,"v":14},{"m":41,"y":0.35,"v":20},{"m":41,"y":0.45,"v":28},{"m":41,"y":0.55,"v":34},{"m":41,"y":0.65,"v":38},{"m":41,"y":0.75,"v":30},{"m":41,"y":0.85,"v":20},{"m":41,"y":0.95,"v":13},
{"m":42,"y":0.05,"v":24},{"m":42,"y":0.15,"v":30},{"m":42,"y":0.25,"v":36},{"m":42,"y":0.35,"v":42},{"m":42,"y":0.45,"v":50},{"m":42,"y":0.55,"v":38},{"m":42,"y":0.65,"v":26},{"m":42,"y":0.75,"v":18},{"m":42,"y":0.85,"v":13},
{"m":43,"y":0.05,"v":28},{"m":43,"y":0.15,"v":34},{"m":43,"y":0.25,"v":44},{"m":43,"y":0.35,"v":54},{"m":43,"y":0.45,"v":44},{"m":43,"y":0.55,"v":30},{"m":43,"y":0.65,"v":20},{"m":43,"y":0.75,"v":14},
{"m":44,"y":0.05,"v":24},{"m":44,"y":0.15,"v":28},{"m":44,"y":0.25,"v":34},{"m":44,"y":0.35,"v":36},{"m":44,"y":0.45,"v":30},{"m":44,"y":0.55,"v":30},{"m":44,"y":0.65,"v":26},{"m":44,"y":0.75,"v":20},{"m":44,"y":0.85,"v":14},
{"m":45,"y":0.05,"v":16},{"m":45,"y":0.15,"v":16},{"m":45,"y":0.25,"v":20},{"m":45,"y":0.35,"v":28},{"m":45,"y":0.45,"v":44},{"m":45,"y":0.55,"v":60},{"m":45,"y":0.65,"v":40},{"m":45,"y":0.75,"v":26},{"m":45,"y":0.85,"v":16},
{"m":46,"y":0.05,"v":20},{"m":46,"y":0.15,"v":22},{"m":46,"y":0.25,"v":22},{"m":46,"y":0.35,"v":20},{"m":46,"y":0.45,"v":18},{"m":46,"y":0.55,"v":18},{"m":46,"y":0.65,"v":18},{"m":46,"y":0.75,"v":14},
{"m":47,"y":0.05,"v":12},{"m":47,"y":0.15,"v":12},{"m":47,"y":0.25,"v":14},{"m":47,"y":0.35,"v":26},{"m":47,"y":0.45,"v":30},{"m":47,"y":0.55,"v":36},{"m":47,"y":0.65,"v":42},{"m":47,"y":0.75,"v":32},{"m":47,"y":0.85,"v":20},{"m":47,"y":0.95,"v":14},
{"m":48,"y":0.05,"v":36},{"m":48,"y":0.15,"v":34},{"m":48,"y":0.25,"v":36},{"m":48,"y":0.35,"v":44},{"m":48,"y":0.45,"v":58},{"m":48,"y":0.55,"v":40},{"m":48,"y":0.65,"v":26},{"m":48,"y":0.75,"v":20},{"m":48,"y":0.85,"v":13},
{"m":49,"y":0.05,"v":42},{"m":49,"y":0.15,"v":34},{"m":49,"y":0.25,"v":34},{"m":49,"y":0.35,"v":40},{"m":49,"y":0.45,"v":44},{"m":49,"y":0.55,"v":48},{"m":49,"y":0.65,"v":40},{"m":49,"y":0.75,"v":30},{"m":49,"y":0.85,"v":24},{"m":49,"y":0.95,"v":18},{"m":49,"y":1.05,"v":13},
{"m":50,"y":0.05,"v":36},{"m":50,"y":0.15,"v":34},{"m":50,"y":0.25,"v":36},{"m":50,"y":0.35,"v":44},{"m":50,"y":0.45,"v":54},{"m":50,"y":0.55,"v":44},{"m":50,"y":0.65,"v":30},{"m":50,"y":0.75,"v":22},{"m":50,"y":0.85,"v":18},{"m":50,"y":0.95,"v":16},{"m":50,"y":1.05,"v":13}
]},
"vconcat":[
{"width":501,"height":417,"encoding":{"x":{"field":"m","type":"quantitative","scale":{"domain":[0,50]},"axis":{"values":[0,10,20,30,40,50],"title":null,"labelPadding":16}},"y":{"field":"y","type":"quantitative","scale":{"domain":[0,15]},"axis":{"values":[0,5,10,15],"title":"ω, rad/s","titleFontSize":28,"titlePadding":15,"labelPadding":17}}},"layer":[
{"data":{"values":[{"m":0,"m2":50,"y":0,"y2":15,"v":10}]},"mark":{"type":"rect","stroke":"#707070","strokeWidth":1},"encoding":{"x2":{"field":"m2"},"y2":{"field":"y2"},"color":{"field":"v","type":"quantitative","scale":{"domain":[10,80],"range":["#00007F","#0000FF","#007FFF","#00FFFF","#7FFF7F","#FFFF00","#FF7F00","#FF0000","#7F0000"]},"legend":{"type":"gradient","orient":"none","legendX":525,"legendY":0,"padding":0,"gradientLength":418,"gradientThickness":22,"gradientOpacity":1,"title":null,"values":[10,20,30,40,50,60,70,80],"labelFontSize":18.5,"labelFont":"Liberation Sans","labelColor":"#262626","labelOffset":7,"gradientStrokeColor":"#444","gradientStrokeWidth":1,"labelOverlap":false,"encoding":{"labels":{"baseline":"middle"}}}}}},
{"data":{"name":"heatA"},"mark":{"type":"rect","width":10.2,"height":14.2,"clip":true,"yOffset":5.25},"encoding":{"color":{"field":"v","type":"quantitative","legend":null}}},
{"data":{"name":"heatA"},"mark":{"type":"rect","width":10.2,"height":14.2,"clip":true,"yOffset":1.75,"opacity":0.5},"encoding":{"color":{"field":"v","type":"quantitative","legend":null}}},
{"data":{"name":"heatA"},"mark":{"type":"rect","width":10.2,"height":14.2,"clip":true,"yOffset":-1.75,"opacity":0.33},"encoding":{"color":{"field":"v","type":"quantitative","legend":null}}},
{"data":{"name":"heatA"},"mark":{"type":"rect","width":10.2,"height":14.2,"clip":true,"yOffset":-5.25,"opacity":0.25},"encoding":{"color":{"field":"v","type":"quantitative","legend":null}}},
{"data":{"values":[{"m":0,"y":0,"s":"real frequency"},{"m":2,"y":0.06,"s":"real frequency"},{"m":3,"y":0.15,"s":"real frequency"},{"m":4,"y":0.3,"s":"real frequency"},{"m":5,"y":0.47,"s":"real frequency"},{"m":6,"y":0.7,"s":"real frequency"},{"m":7,"y":0.93,"s":"real frequency"},{"m":8,"y":1.15,"s":"real frequency"},{"m":9,"y":1.37,"s":"real frequency"},{"m":10,"y":1.55,"s":"real frequency"},{"m":11,"y":1.78,"s":"real frequency"},{"m":12,"y":1.98,"s":"real frequency"},{"m":13,"y":2.15,"s":"real frequency"},{"m":14,"y":2.28,"s":"real frequency"},{"m":15,"y":2.4,"s":"real frequency"},{"m":16,"y":2.5,"s":"real frequency"},{"m":17,"y":2.58,"s":"real frequency"},{"m":18,"y":2.65,"s":"real frequency"},{"m":20,"y":2.78,"s":"real frequency"},{"m":22,"y":2.88,"s":"real frequency"},{"m":25,"y":3,"s":"real frequency"},{"m":30,"y":3.12,"s":"real frequency"},{"m":35,"y":3.2,"s":"real frequency"},{"m":40,"y":3.3,"s":"real frequency"},{"m":45,"y":3.35,"s":"real frequency"},{"m":50,"y":3.4,"s":"real frequency"},{"m":0,"y":0,"s":"growth rate"},{"m":2,"y":0.1,"s":"growth rate"},{"m":3,"y":0.2,"s":"growth rate"},{"m":4,"y":0.35,"s":"growth rate"},{"m":5,"y":0.5,"s":"growth rate"},{"m":6,"y":0.6,"s":"growth rate"},{"m":7,"y":0.68,"s":"growth rate"},{"m":8,"y":0.75,"s":"growth rate"},{"m":9,"y":0.8,"s":"growth rate"},{"m":10,"y":0.8,"s":"growth rate"},{"m":11,"y":0.75,"s":"growth rate"},{"m":12,"y":0.7,"s":"growth rate"},{"m":13,"y":0.62,"s":"growth rate"},{"m":14,"y":0.55,"s":"growth rate"},{"m":16,"y":0.42,"s":"growth rate"},{"m":18,"y":0.33,"s":"growth rate"},{"m":20,"y":0.25,"s":"growth rate"},{"m":22,"y":0.17,"s":"growth rate"},{"m":25,"y":0.1,"s":"growth rate"},{"m":30,"y":0.05,"s":"growth rate"},{"m":35,"y":0.02,"s":"growth rate"},{"m":40,"y":0.01,"s":"growth rate"},{"m":50,"y":0,"s":"growth rate"}]},"mark":{"type":"line","clip":true,"color":"black","strokeWidth":2.8},"encoding":{"strokeDash":{"field":"s","type":"nominal","sort":null,"scale":{"domain":["real frequency","growth rate"],"range":[[1,0],[10,10]]},"legend":{"orient":"none","legendX":259,"legendY":10,"title":null,"fillColor":"#fff","strokeColor":"#333","padding":3,"symbolType":"M-1.33,0H1.33","symbolSize":900,"symbolStrokeWidth":2.5,"symbolStrokeColor":"black","labelFontSize":24,"labelFont":"Liberation Sans","labelColor":"#262626","labelLimit":400,"rowPadding":2,"labelOffset":12,"labelExpr":"datum.label+'\u00a0\u00a0\u00a0\u00a0\u00a0\u00a0\u00a0\u00a0'"}}}},
{"data":{"values":[{"m":9.9,"y":-2.77,"y2":-4.99}]},"mark":{"type":"rule","color":"black","strokeWidth":2.5},"encoding":{"y2":{"field":"y2"}}},
{"data":{"values":[{"m":9.9,"y":-2.39}]},"mark":{"type":"point","shape":"M0,-1L0.59,1L0,0.49L-0.59,1Z","size":1849,"filled":true,"fill":"#151E3D","stroke":"black","strokeWidth":1,"opacity":1}},
{"data":{"values":[{"m":46.3,"y":16.3,"t":"a)"}]},"mark":{"type":"text","font":"Noto Sans","fontSize":46,"align":"left","baseline":"alphabetic","color":"#111"},"encoding":{"text":{"field":"t"}}},
{"data":{"values":[{"m":23.9,"y":15.36,"t":"B = 20 mT"}]},"mark":{"type":"text","font":"Liberation Sans","fontWeight":"bold","fontSize":19.5,"align":"center","baseline":"alphabetic","color":"#111"},"encoding":{"text":{"field":"t"}}},
{"data":{"values":[{"m":0.1,"y":15.18,"t":"×10"}]},"mark":{"type":"text","font":"Liberation Sans","fontSize":21,"align":"left","baseline":"alphabetic","color":"#262626"},"encoding":{"text":{"field":"t"}}},
{"data":{"values":[{"m":4.5,"y":15.58,"t":"7"}]},"mark":{"type":"text","font":"Liberation Sans","fontSize":17,"align":"left","baseline":"alphabetic","color":"#262626"},"encoding":{"text":{"field":"t"}}},
{"data":{"values":[{"m":19.6,"y":-2.27,"t":"m(k"},{"m":26.5,"y":-2.27,"t":"r"},{"m":29.5,"y":-2.2,"t":")"}]},"mark":{"type":"text","font":"Liberation Sans","fontSize":27,"align":"left","baseline":"alphabetic","color":"#262626"},"encoding":{"text":{"field":"t"}}},
{"data":{"values":[{"m":27.8,"y":-2.8,"t":"0"}]},"mark":{"type":"text","font":"Liberation Sans","fontSize":21,"align":"left","baseline":"alphabetic","color":"#262626"},"encoding":{"text":{"field":"t"}}},
{"data":{"values":[{"m":25.3,"y":-2.8,"t":"θ"}]},"mark":{"type":"text","font":"Liberation Serif","fontStyle":"italic","fontSize":19,"align":"left","baseline":"alphabetic","color":"#262626"},"encoding":{"text":{"field":"t"}}}
]},
{"width":501,"height":426,"encoding":{"x":{"field":"m","type":"quantitative","scale":{"domain":[0,50]},"axis":{"values":[0,10,20,30,40,50],"title":null,"labelPadding":16,"offset":-9}},"y":{"field":"y","type":"quantitative","scale":{"domain":[0,3],"range":[417,0]},"axis":{"values":[0,0.5,1,1.5,2,2.5,3],"format":"~g","title":"ω, rad/s","titleFontSize":28,"titlePadding":15,"labelPadding":17}}},"layer":[
{"data":{"values":[{"m":0,"m2":50,"y":0,"y2":3,"v":10}]},"mark":{"type":"rect","stroke":"#707070","strokeWidth":1},"encoding":{"x2":{"field":"m2"},"y2":{"field":"y2"},"color":{"field":"v","type":"quantitative","scale":{"domain":[10,80],"range":["#00007F","#0000FF","#007FFF","#00FFFF","#7FFF7F","#FFFF00","#FF7F00","#FF0000","#7F0000"]},"legend":{"type":"gradient","orient":"none","legendX":525,"legendY":0,"padding":0,"gradientLength":418,"gradientThickness":22,"gradientOpacity":1,"title":null,"values":[10,20,30,40,50,60,70,80],"labelFontSize":18.5,"labelFont":"Liberation Sans","labelColor":"#262626","labelOffset":7,"gradientStrokeColor":"#444","gradientStrokeWidth":1,"labelOverlap":false,"encoding":{"labels":{"baseline":"middle"}}}}}},
{"data":{"name":"heatB"},"mark":{"type":"rect","width":10.2,"height":14.2,"clip":true,"yOffset":5.25},"encoding":{"color":{"field":"v","type":"quantitative","legend":null}}},
{"data":{"name":"heatB"},"mark":{"type":"rect","width":10.2,"height":14.2,"clip":true,"yOffset":1.75,"opacity":0.5},"encoding":{"color":{"field":"v","type":"quantitative","legend":null}}},
{"data":{"name":"heatB"},"mark":{"type":"rect","width":10.2,"height":14.2,"clip":true,"yOffset":-1.75,"opacity":0.33},"encoding":{"color":{"field":"v","type":"quantitative","legend":null}}},
{"data":{"name":"heatB"},"mark":{"type":"rect","width":10.2,"height":14.2,"clip":true,"yOffset":-5.25,"opacity":0.25},"encoding":{"color":{"field":"v","type":"quantitative","legend":null}}},
{"data":{"values":[{"m":0,"y":0,"s":"real frequency"},{"m":2.8,"y":0.005,"s":"real frequency"},{"m":4.5,"y":0.017,"s":"real frequency"},{"m":6.5,"y":0.029,"s":"real frequency"},{"m":7.8,"y":0.041,"s":"real frequency"},{"m":8.8,"y":0.06,"s":"real frequency"},{"m":9.8,"y":0.1,"s":"real frequency"},{"m":10.8,"y":0.173,"s":"real frequency"},{"m":11.8,"y":0.269,"s":"real frequency"},{"m":12.7,"y":0.34,"s":"real frequency"},{"m":13.3,"y":0.379,"s":"real frequency"},{"m":14,"y":0.393,"s":"real frequency"},{"m":14.5,"y":0.396,"s":"real frequency"},{"m":15.5,"y":0.386,"s":"real frequency"},{"m":16.5,"y":0.367,"s":"real frequency"},{"m":17.8,"y":0.35,"s":"real frequency"},{"m":19.5,"y":0.338,"s":"real frequency"},{"m":22.8,"y":0.333,"s":"real frequency"},{"m":25.5,"y":0.333,"s":"real frequency"},{"m":30,"y":0.334,"s":"real frequency"},{"m":40,"y":0.34,"s":"real frequency"},{"m":50,"y":0.347,"s":"real frequency"},{"m":0,"y":0,"s":"growth rate"},{"m":2.8,"y":0.034,"s":"growth rate"},{"m":4.5,"y":0.06,"s":"growth rate"},{"m":6.5,"y":0.1,"s":"growth rate"},{"m":8.5,"y":0.16,"s":"growth rate"},{"m":10.5,"y":0.245,"s":"growth rate"},{"m":12.3,"y":0.28,"s":"growth rate"},{"m":13.5,"y":0.197,"s":"growth rate"},{"m":15.2,"y":0.084,"s":"growth rate"},{"m":16.8,"y":0.036,"s":"growth rate"},{"m":19.2,"y":0.017,"s":"growth rate"},{"m":20.8,"y":0.01,"s":"growth rate"},{"m":22.8,"y":0.005,"s":"growth rate"},{"m":25.5,"y":0.002,"s":"growth rate"},{"m":50,"y":0,"s":"growth rate"}]},"mark":{"type":"line","clip":true,"color":"black","strokeWidth":2.8},"encoding":{"strokeDash":{"field":"s","type":"nominal","sort":null,"scale":{"domain":["real frequency","growth rate"],"range":[[1,0],[10,10]]},"legend":null}}},
{"data":{"values":[{"m":12.2,"y":-0.52,"y2":-0.975}]},"mark":{"type":"rule","color":"black","strokeWidth":2.5},"encoding":{"y2":{"field":"y2"}}},
{"data":{"values":[{"m":12.2,"y":-0.45}]},"mark":{"type":"point","shape":"M0,-1L0.59,1L0,0.49L-0.59,1Z","size":1849,"filled":true,"fill":"#151E3D","stroke":"black","strokeWidth":1,"opacity":1}},
{"data":{"values":[{"m":45.5,"y":3.2,"t":"b)"}]},"mark":{"type":"text","font":"Noto Sans","fontSize":46,"align":"left","baseline":"alphabetic","color":"#111"},"encoding":{"text":{"field":"t"}}},
{"data":{"values":[{"m":23.96,"y":3.063,"t":"B = 40 mT"}]},"mark":{"type":"text","font":"Liberation Sans","fontWeight":"bold","fontSize":19.5,"align":"center","baseline":"alphabetic","color":"#111"},"encoding":{"text":{"field":"t"}}},
{"data":{"values":[{"m":0.1,"y":3.035,"t":"×10"}]},"mark":{"type":"text","font":"Liberation Sans","fontSize":21,"align":"left","baseline":"alphabetic","color":"#262626"},"encoding":{"text":{"field":"t"}}},
{"data":{"values":[{"m":4.5,"y":3.115,"t":"8"}]},"mark":{"type":"text","font":"Liberation Sans","fontSize":17,"align":"left","baseline":"alphabetic","color":"#262626"},"encoding":{"text":{"field":"t"}}},
{"data":{"values":[{"m":19.7,"y":-0.45,"t":"m(k"},{"m":26.5,"y":-0.45,"t":"r"},{"m":29.5,"y":-0.44,"t":")"}]},"mark":{"type":"text","font":"Liberation Sans","fontSize":27,"align":"left","baseline":"alphabetic","color":"#262626"},"encoding":{"text":{"field":"t"}}},
{"data":{"values":[{"m":27.8,"y":-0.557,"t":"0"}]},"mark":{"type":"text","font":"Liberation Sans","fontSize":21,"align":"left","baseline":"alphabetic","color":"#262626"},"encoding":{"text":{"field":"t"}}},
{"data":{"values":[{"m":25.3,"y":-0.557,"t":"θ"}]},"mark":{"type":"text","font":"Liberation Serif","fontStyle":"italic","fontSize":19,"align":"left","baseline":"alphabetic","color":"#262626"},"encoding":{"text":{"field":"t"}}}
]},
{"width":501,"height":417,"encoding":{"x":{"field":"m","type":"quantitative","scale":{"domain":[0,50]},"axis":{"values":[0,10,20,30,40,50],"title":null,"labelPadding":16}},"y":{"field":"y","type":"quantitative","scale":{"domain":[0,3]},"axis":{"values":[0,0.5,1,1.5,2,2.5,3],"format":"~g","title":"ω, rad/s","titleFontSize":28,"titlePadding":15,"labelPadding":17}}},"layer":[
{"data":{"values":[{"m":0,"m2":50,"y":0,"y2":3,"v":10}]},"mark":{"type":"rect","stroke":"#707070","strokeWidth":1},"encoding":{"x2":{"field":"m2"},"y2":{"field":"y2"},"color":{"field":"v","type":"quantitative","scale":{"domain":[10,80],"range":["#00007F","#0000FF","#007FFF","#00FFFF","#7FFF7F","#FFFF00","#FF7F00","#FF0000","#7F0000"]},"legend":{"type":"gradient","orient":"none","legendX":525,"legendY":0,"padding":0,"gradientLength":418,"gradientThickness":22,"gradientOpacity":1,"title":null,"values":[10,20,30,40,50,60,70,80],"labelFontSize":18.5,"labelFont":"Liberation Sans","labelColor":"#262626","labelOffset":7,"gradientStrokeColor":"#444","gradientStrokeWidth":1,"labelOverlap":false,"encoding":{"labels":{"baseline":"middle"}}}}}},
{"data":{"name":"heatC"},"mark":{"type":"rect","width":10.2,"height":14.2,"clip":true,"yOffset":5.25},"encoding":{"color":{"field":"v","type":"quantitative","legend":null}}},
{"data":{"name":"heatC"},"mark":{"type":"rect","width":10.2,"height":14.2,"clip":true,"yOffset":1.75,"opacity":0.5},"encoding":{"color":{"field":"v","type":"quantitative","legend":null}}},
{"data":{"name":"heatC"},"mark":{"type":"rect","width":10.2,"height":14.2,"clip":true,"yOffset":-1.75,"opacity":0.33},"encoding":{"color":{"field":"v","type":"quantitative","legend":null}}},
{"data":{"name":"heatC"},"mark":{"type":"rect","width":10.2,"height":14.2,"clip":true,"yOffset":-5.25,"opacity":0.25},"encoding":{"color":{"field":"v","type":"quantitative","legend":null}}},
{"data":{"values":[{"m":0,"y":0,"s":"real frequency"},{"m":2.8,"y":0.002,"s":"real frequency"},{"m":6.2,"y":0.01,"s":"real frequency"},{"m":7.8,"y":0.022,"s":"real frequency"},{"m":8.8,"y":0.062,"s":"real frequency"},{"m":9.5,"y":0.17,"s":"real frequency"},{"m":10,"y":0.41,"s":"real frequency"},{"m":10.3,"y":0.626,"s":"real frequency"},{"m":10.67,"y":0.734,"s":"real frequency"},{"m":11,"y":0.71,"s":"real frequency"},{"m":11.5,"y":0.58,"s":"real frequency"},{"m":12.3,"y":0.47,"s":"real frequency"},{"m":13.5,"y":0.396,"s":"real frequency"},{"m":15.2,"y":0.355,"s":"real frequency"},{"m":17.2,"y":0.343,"s":"real frequency"},{"m":25.5,"y":0.34,"s":"real frequency"},{"m":50,"y":0.355,"s":"real frequency"},{"m":0,"y":0,"s":"growth rate"},{"m":2.2,"y":0.046,"s":"growth rate"},{"m":4.2,"y":0.098,"s":"growth rate"},{"m":6.2,"y":0.17,"s":"growth rate"},{"m":7.5,"y":0.254,"s":"growth rate"},{"m":8.8,"y":0.41,"s":"growth rate"},{"m":9.7,"y":0.578,"s":"growth rate"},{"m":10.2,"y":0.638,"s":"growth rate"},{"m":10.5,"y":0.48,"s":"growth rate"},{"m":11,"y":0.194,"s":"growth rate"},{"m":11.7,"y":0.062,"s":"growth rate"},{"m":12.8,"y":0.022,"s":"growth rate"},{"m":14.5,"y":0.01,"s":"growth rate"},{"m":17.8,"y":0.002,"s":"growth rate"},{"m":50,"y":0,"s":"growth rate"}]},"mark":{"type":"line","clip":true,"color":"black","strokeWidth":2.8},"encoding":{"strokeDash":{"field":"s","type":"nominal","sort":null,"scale":{"domain":["real frequency","growth rate"],"range":[[1,0],[10,10]]},"legend":null}}},
{"data":{"values":[{"m":10.1,"y":-0.518,"y2":-0.964}]},"mark":{"type":"rule","color":"black","strokeWidth":2.5},"encoding":{"y2":{"field":"y2"}}},
{"data":{"values":[{"m":10.1,"y":-0.44}]},"mark":{"type":"point","shape":"M0,-1L0.59,1L0,0.49L-0.59,1Z","size":1849,"filled":true,"fill":"#151E3D","stroke":"black","strokeWidth":1,"opacity":1}},
{"data":{"values":[{"m":46.2,"y":3.266,"t":"c)"}]},"mark":{"type":"text","font":"Noto Sans","fontSize":46,"align":"left","baseline":"alphabetic","color":"#111"},"encoding":{"text":{"field":"t"}}},
{"data":{"values":[{"m":23.96,"y":3.067,"t":"B = 60 mT"}]},"mark":{"type":"text","font":"Liberation Sans","fontWeight":"bold","fontSize":19.5,"align":"center","baseline":"alphabetic","color":"#111"},"encoding":{"text":{"field":"t"}}},
{"data":{"values":[{"m":0.1,"y":3.035,"t":"×10"}]},"mark":{"type":"text","font":"Liberation Sans","fontSize":21,"align":"left","baseline":"alphabetic","color":"#262626"},"encoding":{"text":{"field":"t"}}},
{"data":{"values":[{"m":4.5,"y":3.115,"t":"8"}]},"mark":{"type":"text","font":"Liberation Sans","fontSize":17,"align":"left","baseline":"alphabetic","color":"#262626"},"encoding":{"text":{"field":"t"}}},
{"data":{"values":[{"m":19.7,"y":-0.455,"t":"m(k"},{"m":26.5,"y":-0.455,"t":"r"},{"m":29.5,"y":-0.445,"t":")"}]},"mark":{"type":"text","font":"Liberation Sans","fontSize":27,"align":"left","baseline":"alphabetic","color":"#262626"},"encoding":{"text":{"field":"t"}}},
{"data":{"values":[{"m":27.8,"y":-0.565,"t":"0"}]},"mark":{"type":"text","font":"Liberation Sans","fontSize":21,"align":"left","baseline":"alphabetic","color":"#262626"},"encoding":{"text":{"field":"t"}}},
{"data":{"values":[{"m":25.3,"y":-0.565,"t":"θ"}]},"mark":{"type":"text","font":"Liberation Serif","fontStyle":"italic","fontSize":19,"align":"left","baseline":"alphabetic","color":"#262626"},"encoding":{"text":{"field":"t"}}}
]}
]}
